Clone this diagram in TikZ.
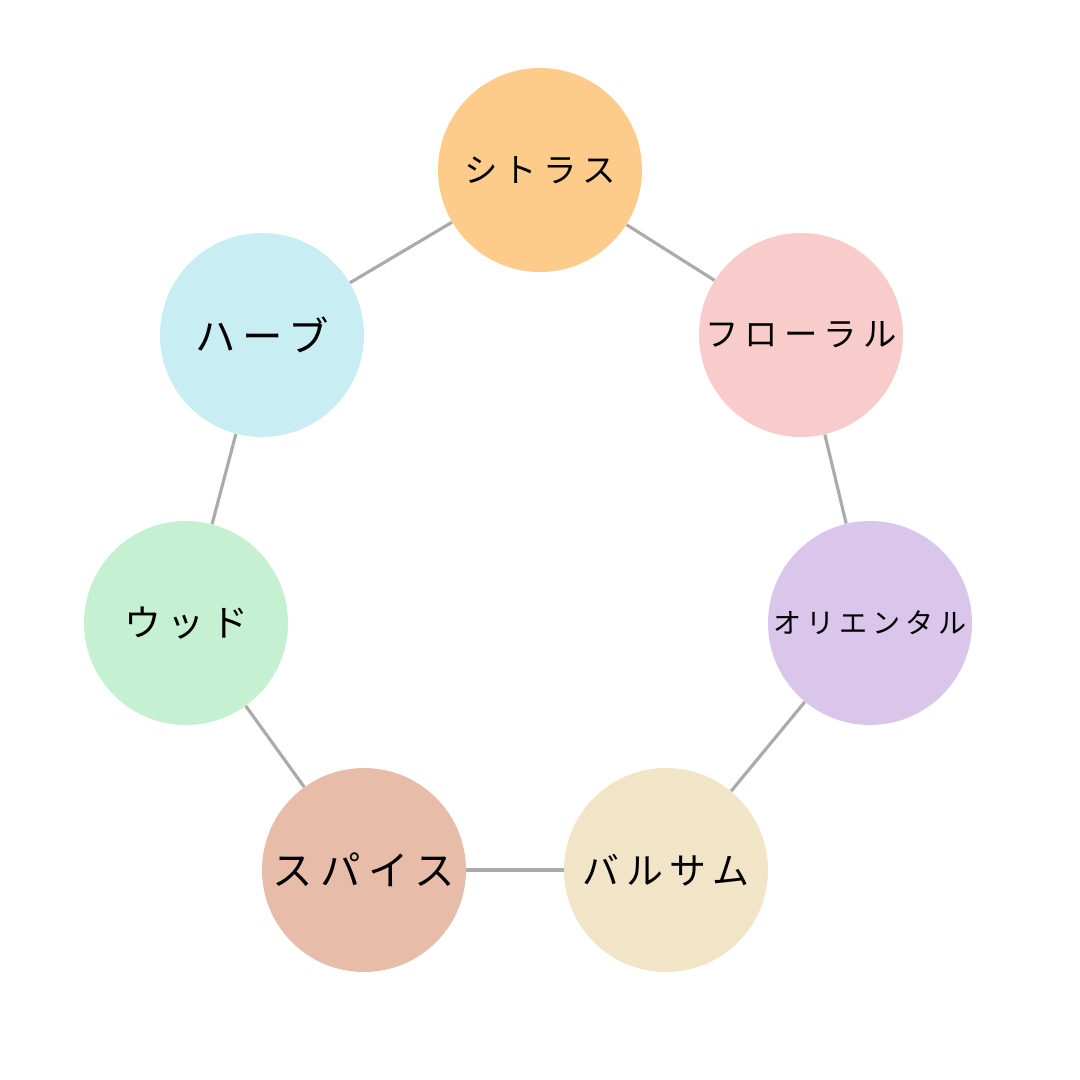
\documentclass[tikz,border=0pt]{standalone}
\usepackage{fontspec}
\newfontfamily\jp[LetterSpace=18]{Noto Sans CJK JP}
\begin{document}
\begin{tikzpicture}[x=0.02cm,y=-0.02cm,
  blob/.style={circle,minimum size=204*0.02cm,inner sep=0pt,font=\jp},
  link/.style={draw=black!33,line width=1.8pt}]
\useasboundingbox (0,0) rectangle (1080,1080);
\definecolor{cA}{HTML}{FDCB8A}\definecolor{cB}{HTML}{F9CCCC}\definecolor{cC}{HTML}{D9C6EA}
\definecolor{cD}{HTML}{F2E4C6}\definecolor{cE}{HTML}{E7BDA9}\definecolor{cF}{HTML}{C5F0D2}
\definecolor{cG}{HTML}{C8EDF2}
\node[blob,fill=cA,font=\jp\fontsize{19}{19}\selectfont] (cit) at (540,170) {シトラス};
\node[blob,fill=cB,font=\jp\fontsize{19}{19}\selectfont] (flo) at (801,335) {フローラル};
\node[blob,fill=cC,font=\jp\fontsize{16}{16}\selectfont] (ori) at (870,623) {オリエンタル};
\node[blob,fill=cD,font=\jp\fontsize{21}{21}\selectfont] (bal) at (666,870) {バルサム};
\node[blob,fill=cE,font=\jp\fontsize{23}{23}\selectfont] (spi) at (364,870) {スパイス};
\node[blob,fill=cF,font=\jp\fontsize{21}{21}\selectfont] (woo) at (186,623) {ウッド};
\node[blob,fill=cG,font=\jp\fontsize{23}{23}\selectfont] (her) at (262,335) {ハーブ};
\draw[link] (cit)--(flo); \draw[link] (flo)--(ori); \draw[link] (ori)--(bal);
\draw[link] (bal)--(spi); \draw[link] (spi)--(woo); \draw[link] (woo)--(her);
\draw[link] (her)--(cit);
\end{tikzpicture}
\end{document}
